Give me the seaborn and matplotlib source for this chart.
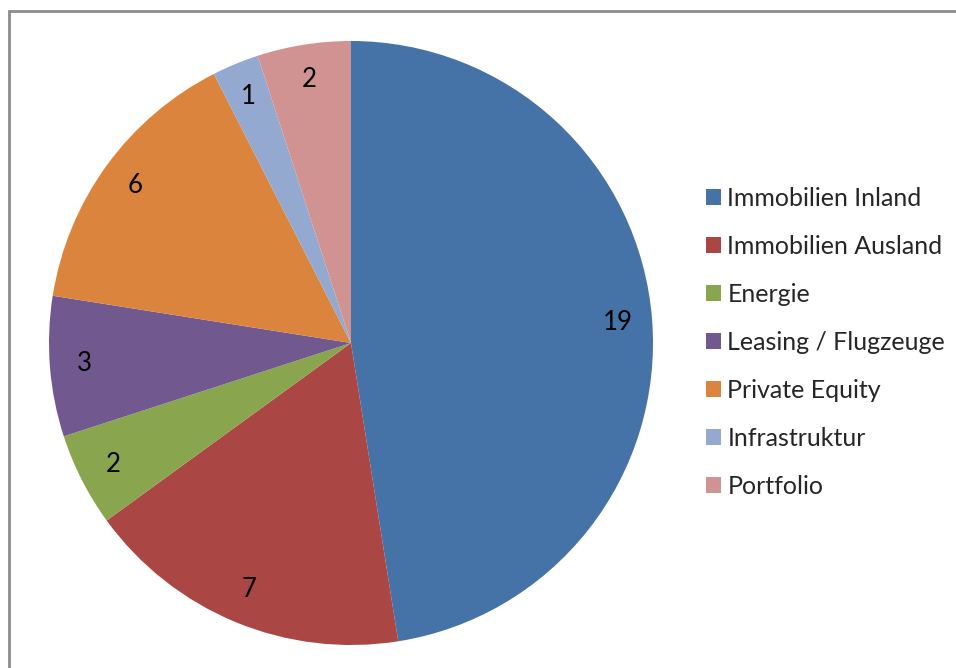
import matplotlib
matplotlib.use("Agg")
import matplotlib.pyplot as plt
import seaborn as sns
from matplotlib.patches import Rectangle

# data
categories = ["Immobilien Inland", "Immobilien Ausland", "Energie",
              "Leasing / Flugzeuge", "Private Equity", "Infrastruktur", "Portfolio"]
values = [19, 7, 2, 3, 6, 1, 2]
colors = ["#4572A7", "#AA4643", "#89A54E", "#71588F", "#DB843D", "#93A9CF", "#D19392"]

sns.set_theme(style="white")
plt.rcParams["font.family"] = ["Lato", "DejaVu Sans"]

W, H = 956, 668
fig = plt.figure(figsize=(W / 100, H / 100), dpi=100)

# pie area: centre (351, 343), radius ~302 px
cx, cy, r = 351, 343, 302
ax = fig.add_axes([(cx - r) / W, (H - cy - r) / H, 2 * r / W, 2 * r / H])

total = sum(values)
wedges, texts, autotexts = ax.pie(
    values,
    colors=sns.color_palette(colors),
    startangle=90,
    counterclock=False,
    radius=1,
    autopct=lambda p: f"{round(p * total / 100)}",
    pctdistance=0.885,
    wedgeprops={"linewidth": 0},
    textprops={"fontsize": 18.5, "color": "black"},
)
ax.set_xlim(-1, 1)
ax.set_ylim(-1, 1)
ax.set_aspect("equal")
ax.axis("off")

# legend on the right
leg = fig.legend(
    wedges, categories,
    loc="upper left",
    bbox_to_anchor=(706 / W, 1 - 187 / H),
    frameon=False,
    fontsize=18,
    handlelength=0.6, handleheight=0.6,
    handletextpad=0.25,
    labelspacing=1.0,
    borderaxespad=0,
    borderpad=0,
)

# chart border (only top/left visible in the crop)
fig.add_artist(Rectangle((9 / W, -0.1), 1.2, (H - 11) / H + 0.1,
                         transform=fig.transFigure, fill=False,
                         edgecolor="#8c8c8c", linewidth=2))

fig.savefig("out.png", dpi=100)
